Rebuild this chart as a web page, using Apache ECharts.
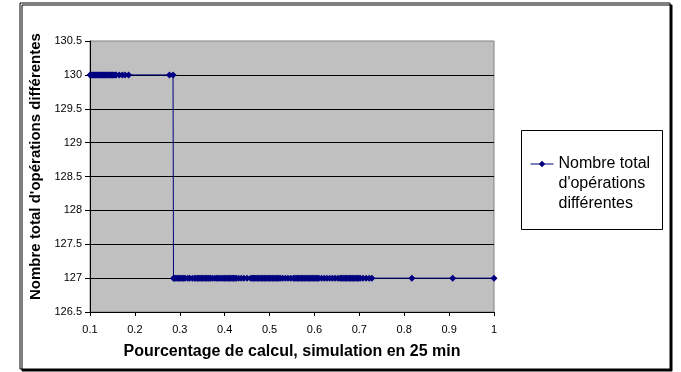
<!DOCTYPE html>
<html>
<head>
<meta charset="utf-8">
<script src="https://cdnjs.cloudflare.com/ajax/libs/echarts/6.0.0/echarts.min.js"></script>
<style>
  html, body { margin: 0; padding: 0; background: #fff; }
  #chart { width: 681px; height: 372px; }
</style>
</head>
<body>
<div id="chart"></div>
<script>
  // pourcentage de calcul (x) pour les points à 130
  var xHigh = [0.100, 0.103, 0.106, 0.108, 0.110, 0.113, 0.115, 0.118, 0.120, 0.123,
               0.125, 0.128, 0.130, 0.133, 0.135, 0.138, 0.140, 0.143, 0.145, 0.148,
               0.150, 0.153, 0.156, 0.158, 0.165, 0.172, 0.178, 0.186, 0.277, 0.285];
  // pourcentage de calcul (x) pour les points à 127
  var xLow = [0.286, 0.288, 0.291, 0.294, 0.297, 0.300, 0.303, 0.306, 0.309, 0.312,
              0.318, 0.322, 0.328, 0.333, 0.336, 0.339, 0.342, 0.345, 0.348, 0.351,
              0.354, 0.357, 0.360, 0.363, 0.366, 0.369, 0.373, 0.378, 0.382, 0.385,
              0.388, 0.392, 0.396, 0.399, 0.402, 0.405, 0.408, 0.411, 0.414, 0.417,
              0.420, 0.423, 0.426, 0.431, 0.437, 0.443, 0.450, 0.458, 0.461, 0.464,
              0.467, 0.470, 0.473, 0.476, 0.479, 0.482, 0.485, 0.488, 0.491, 0.494,
              0.497, 0.500, 0.503, 0.506, 0.509, 0.512, 0.515, 0.518, 0.521, 0.524,
              0.529, 0.535, 0.541, 0.547, 0.553, 0.556, 0.559, 0.562, 0.565, 0.568,
              0.571, 0.574, 0.577, 0.580, 0.583, 0.586, 0.589, 0.592, 0.595, 0.598,
              0.601, 0.604, 0.607, 0.610, 0.616, 0.622, 0.628, 0.634, 0.640, 0.646,
              0.652, 0.657, 0.660, 0.663, 0.666, 0.669, 0.672, 0.675, 0.678, 0.681,
              0.684, 0.687, 0.690, 0.693, 0.696, 0.699, 0.702, 0.708, 0.715, 0.722,
              0.728, 0.817, 0.908, 1.000];
  var valHigh = 130;
  var valLow = 127;
  var seriesName = "Nombre total d'opérations différentes";

  var points = [];
  xHigh.forEach(function (x) { points.push([x, valHigh]); });
  xLow.forEach(function (x) { points.push([x, valLow]); });

  var font = 'Liberation Sans, Arial, sans-serif';
  var chart = echarts.init(document.getElementById('chart'));
  chart.setOption({
    animation: false,
    textStyle: { fontFamily: font },
    graphic: [{
      type: 'rect',
      shape: { x: 20, y: 3, width: 650, height: 366 },
      style: { fill: '#fff', stroke: '#000', lineWidth: 1,
               shadowColor: '#000', shadowOffsetX: 2, shadowOffsetY: 2, shadowBlur: 0 },
      z: -10
    }, {
      // cadre de la légende
      type: 'rect',
      shape: { x: 521.5, y: 130.5, width: 141, height: 99 },
      style: { fill: '#fff', stroke: '#000', lineWidth: 1 },
      z: -5
    }],
    grid: {
      left: 90, top: 41, right: 187, bottom: 60,
      show: true, backgroundColor: '#c0c0c0', borderColor: '#808080', borderWidth: 1
    },
    legend: {
      left: 530, top: 114,
      orient: 'vertical',
      padding: 0,
      itemWidth: 23, itemHeight: 8, itemGap: 0,
      lineStyle: { width: 1, color: '#000080' },
      // deux lignes vides en tête pour aligner le symbole sur la première ligne
      formatter: function () { return "\n\nNombre total\nd'opérations\ndifférentes"; },
      textStyle: { fontSize: 16, lineHeight: 20, color: '#000', fontFamily: font },
      data: [seriesName]
    },
    xAxis: {
      type: 'value', min: 0.1, max: 1, interval: 0.1,
      name: 'Pourcentage de calcul, simulation en 25 min',
      nameLocation: 'middle', nameGap: 32,
      nameTextStyle: { fontSize: 16, fontWeight: 'bold', color: '#000' },
      axisLine: { lineStyle: { color: '#000' } },
      axisTick: { show: true, length: 4, lineStyle: { color: '#000' } },
      axisLabel: { fontSize: 11, color: '#000', margin: 12 },
      splitLine: { show: false }
    },
    yAxis: {
      type: 'value', min: 126.5, max: 130.5, interval: 0.5,
      name: "Nombre total d'opérations différentes",
      nameLocation: 'middle', nameGap: 46,
      nameTextStyle: { fontSize: 15, fontWeight: 'bold', color: '#000',
                       padding: [0, 0, 0, 20] },
      axisLine: { show: true, lineStyle: { color: '#000' } },
      axisTick: { show: true, length: 5, lineStyle: { color: '#000' } },
      axisLabel: { fontSize: 11, color: '#000', margin: 8 },
      splitLine: { show: true, showMinLine: false, showMaxLine: false,
                   lineStyle: { color: '#000', width: 1 } }
    },
    series: [{
      name: seriesName,
      type: 'line',
      data: points,
      symbol: 'diamond',
      symbolSize: 7,
      showAllSymbol: true,
      lineStyle: { color: '#000080', width: 1 },
      itemStyle: { color: '#000080' }
    }]
  });
</script>
</body>
</html>
